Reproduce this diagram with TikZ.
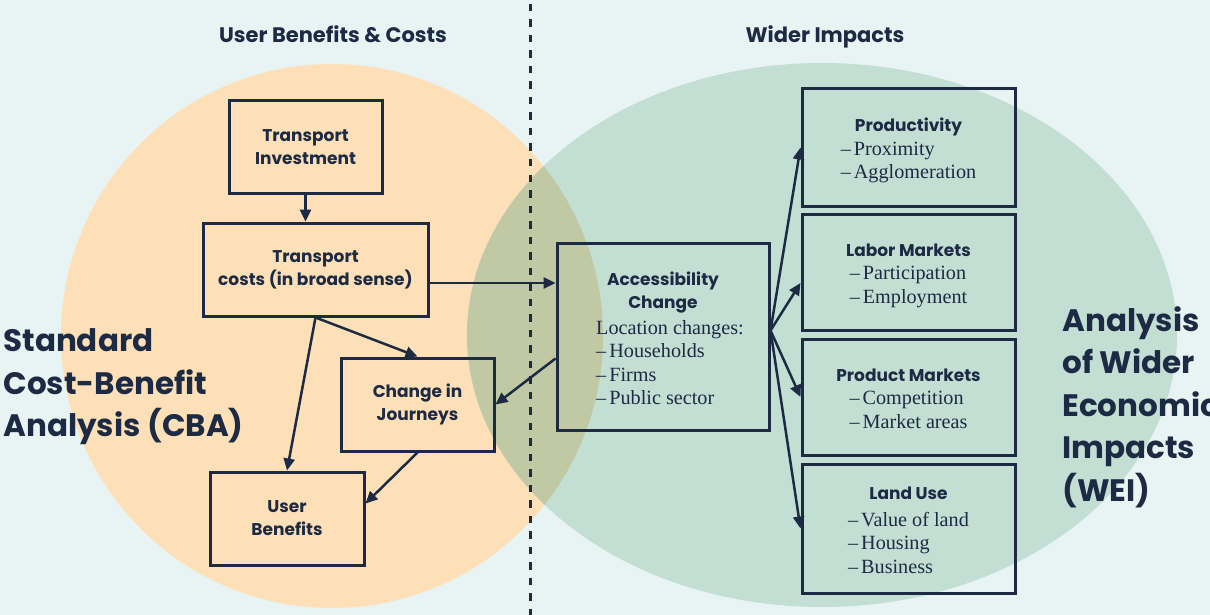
\documentclass[tikz,border=0pt]{standalone}
\usepackage{fontspec}
\usepackage{tikz}
\usetikzlibrary{arrows.meta}
\setmainfont{Liberation Serif}
\newfontfamily\headfont{Poppins}
\definecolor{bgcol}{HTML}{E8F4F4}
\definecolor{cbacol}{HTML}{FDE0B7}
\definecolor{weicol}{HTML}{C3DFD3}
\definecolor{bothcol}{HTML}{C0C9A3}
\definecolor{ink}{HTML}{1D2A44}
\newcommand\boxfont{\headfont\bfseries\fontsize{8.5}{11.5}\selectfont}
\newcommand\itemfont{\fontsize{10.1}{11.75}\selectfont}
\newcommand\dl{--\hspace{1.5pt}}
\newcommand\topgap[1]{\rule{0pt}{#1}}

\begin{document}
\begin{tikzpicture}[x=0.5pt, y=-0.5pt, text=ink,
    box/.style={draw=ink, line width=1.5pt, align=center, inner sep=0pt},
    arr/.style={draw=ink, line width=1.25pt, -{Triangle[length=6pt, width=5.5pt]}},
    toptitle/.style={anchor=base, font=\headfont\bfseries\fontsize{10.5}{12}\selectfont},
    bigtitle/.style={anchor=west, align=left, inner sep=0pt, font=\headfont\bfseries\fontsize{15.5}{21.25}\selectfont}]
     \fill [bgcol] (0, 0) rectangle (1210, 615);
     \clip (0, 0) rectangle (1210, 615);

     % the two fields
     \fill [cbacol] (332, 336) ellipse [x radius=135.5pt, y radius=136pt];
     \fill [weicol] (822, 335) ellipse [x radius=177.5pt, y radius=136pt];
     \begin{scope}
          \clip (332, 336) ellipse [x radius=135.5pt, y radius=136pt];
          \fill [bothcol] (822, 335) ellipse [x radius=177.5pt, y radius=136pt];
     \end{scope}

     \draw [ink, line width=1.5pt, dash pattern=on 3.75pt off 4pt] (530, 4) -- (530, 615);

     \node [toptitle] (ubc) at (333, 43) {User Benefits \& Costs};
     \node [toptitle] (wider) at (825, 43) {Wider Impacts};

     \node [bigtitle] (cba) at (3, 387) {Standard\\Cost-Benefit\\Analysis (CBA)};
     \node [bigtitle] (wei) at (1062, 407) {Analysis\\of Wider\\Economic\\Impacts\\(WEI)};

     % user side
     \node [box, font=\boxfont, minimum width=76.5pt, minimum height=46pt] (inv) at (305.5, 147) {Transport\\Investment};
     \node [box, font=\boxfont, minimum width=112.5pt, minimum height=46.5pt] (cost) at (315.5, 269.5) {Transport\\costs (in broad sense)};
     \node [box, font=\boxfont, minimum width=76.5pt, minimum height=46.5pt] (jour) at (417.5, 404.5) {Change in\\Journeys};
     \node [box, font=\boxfont, minimum width=77pt, minimum height=46.5pt] (ben) at (287, 518.5) {User\\Benefits};

     % wider side
     \node [box, font=\itemfont, minimum width=106pt, minimum height=93.5pt] (acc) at (663, 336.5)
          {\topgap{12pt}{\boxfont Accessibility}\\{\boxfont Change}\\[1pt]
           \hspace*{7pt}\begin{tabular}[t]{@{}l@{}}Location changes:\\\dl Households\\\dl Firms\\\dl Public sector\end{tabular}};
     \node [box, font=\itemfont, minimum width=106.5pt, minimum height=58.5pt] (prod) at (908.5, 147.5)
          {\topgap{11.5pt}{\boxfont Productivity}\\\begin{tabular}[t]{@{}l@{}}\dl Proximity\\\dl Agglomeration\end{tabular}};
     \node [box, font=\itemfont, minimum width=106.5pt, minimum height=58pt] (lab) at (908.5, 272)
          {\topgap{11.5pt}{\boxfont Labor Markets}\\\begin{tabular}[t]{@{}l@{}}\dl Participation\\\dl Employment\end{tabular}};
     \node [box, font=\itemfont, minimum width=106.5pt, minimum height=58pt] (mkt) at (908.5, 397)
          {\topgap{11.5pt}{\boxfont Product Markets}\\\begin{tabular}[t]{@{}l@{}}\dl Competition\\\dl Market areas\end{tabular}};
     \node [box, font=\itemfont, minimum width=106.5pt, minimum height=64.5pt] (land) at (908.5, 528.5)
          {\topgap{11.5pt}{\boxfont Land Use}\\[1.5pt]\begin{tabular}[t]{@{}l@{}}\dl Value of land\\\dl Housing\\\dl Business\end{tabular}};

     \draw [arr] (inv.south) -- (inv.south |- cost.north);
     \draw [arr] ([yshift=-6.75pt]cost.east) -- ([yshift=-6.75pt]cost.east -| acc.west);
     \draw [arr] (cost.south) -- (jour.north);
     \draw [arr] (cost.south) -- (ben.north);
     \draw [arr] (jour.south) -- ([yshift=7.5pt]ben.east);
     \draw [arr] ([yshift=-11pt]acc.west) -- (jour.east);
     \foreach \t/\s in {prod/0, lab/-5.5, mkt/0, land/0}
          \draw [arr] ([yshift=3pt]acc.east) -- ([yshift=\s pt]\t.west);
\end{tikzpicture}
\end{document}
